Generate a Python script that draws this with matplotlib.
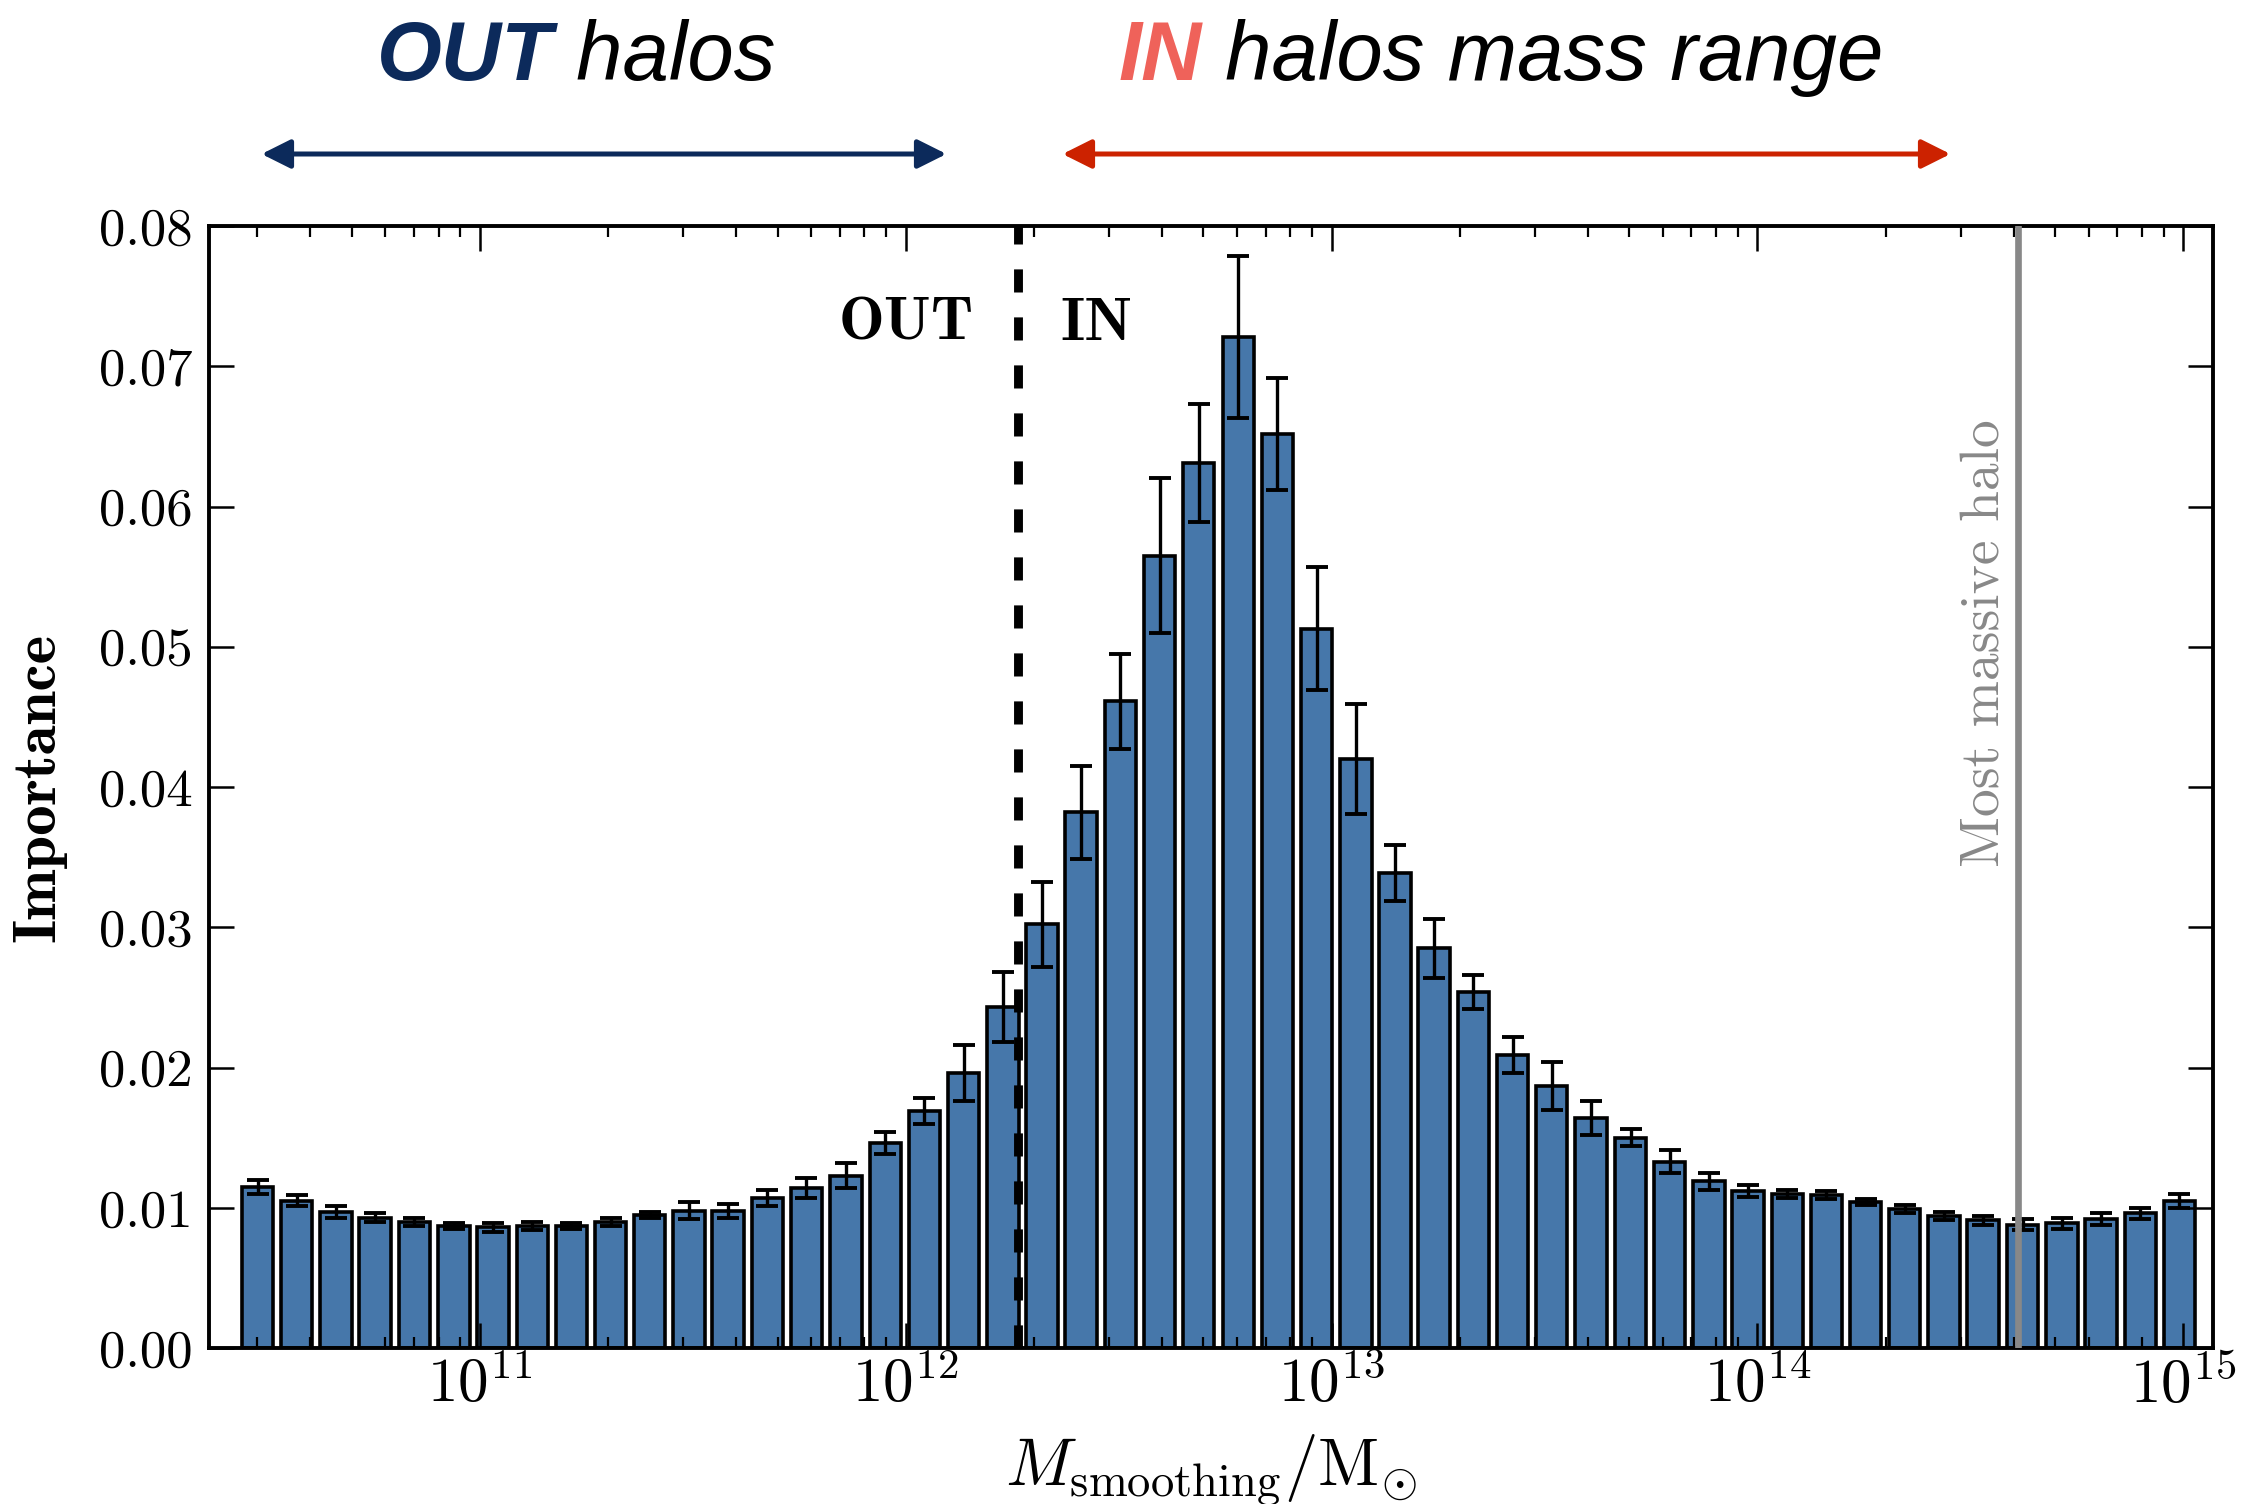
import numpy as np
import matplotlib
matplotlib.use('Agg')
import matplotlib.pyplot as plt
from matplotlib import ticker

# log10 of smoothing mass at each bar (bin centres)
log_mass = [10.478, 10.570, 10.662, 10.754, 10.846, 10.939, 11.031, 11.123, 11.215, 11.307,
            11.399, 11.491, 11.583, 11.675, 11.767, 11.860, 11.952, 12.044, 12.136, 12.228,
            12.320, 12.412, 12.504, 12.596, 12.688, 12.781, 12.873, 12.965, 13.057, 13.149,
            13.241, 13.333, 13.425, 13.517, 13.609, 13.702, 13.794, 13.886, 13.978, 14.070,
            14.162, 14.254, 14.346, 14.438, 14.530, 14.623, 14.715, 14.807, 14.899, 14.991]

# feature importance
importance = [0.0115, 0.0105, 0.0097, 0.0093, 0.0090, 0.0087, 0.0086, 0.0087, 0.0087, 0.0090,
              0.0095, 0.0098, 0.0098, 0.0107, 0.0114, 0.0123, 0.0146, 0.0169, 0.0196, 0.0243,
              0.0302, 0.0382, 0.0461, 0.0565, 0.0631, 0.0721, 0.0652, 0.0513, 0.0420, 0.0339,
              0.0285, 0.0254, 0.0209, 0.0187, 0.0164, 0.0150, 0.0133, 0.0119, 0.0112, 0.0110,
              0.0109, 0.0104, 0.0099, 0.0094, 0.0091, 0.0088, 0.0089, 0.0092, 0.0096, 0.0105]

# error bars
importance_err = [0.0005, 0.0004, 0.0004, 0.0003, 0.0003, 0.0002, 0.0003, 0.0003, 0.0002, 0.0003,
                  0.0002, 0.0006, 0.0005, 0.0006, 0.0007, 0.0009, 0.0008, 0.0009, 0.0020, 0.0025,
                  0.0030, 0.0033, 0.0034, 0.0055, 0.0042, 0.0058, 0.0040, 0.0044, 0.0039, 0.0020,
                  0.0021, 0.0012, 0.0013, 0.0017, 0.0012, 0.0006, 0.0008, 0.0006, 0.0004, 0.0003,
                  0.0003, 0.0002, 0.0003, 0.0003, 0.0003, 0.0004, 0.0004, 0.0004, 0.0004, 0.0005]

split_log_mass = 12.263      # граница IN / OUT
most_massive_log_mass = 14.613

plt.rcParams['font.family'] = 'serif'
plt.rcParams['font.serif'] = ['cmr10']
plt.rcParams['mathtext.fontset'] = 'cm'
plt.rcParams['axes.formatter.use_mathtext'] = True

fig = plt.figure(figsize=(11.275, 7.52), dpi=200)
ax = fig.add_axes([0.0927, 0.1037, 0.8887, 0.746])

lm = np.array(log_mass)
half = 0.0369
left = 10 ** (lm - half)
width = 10 ** (lm + half) - left
ax.bar(left, importance, width=width, align='edge', color='#4677aa',
       edgecolor='black', linewidth=1.3, zorder=1)
ax.errorbar(10 ** lm, importance, yerr=importance_err, fmt='none', ecolor='black',
            elinewidth=1.2, capsize=3.8, capthick=1.4, zorder=2)

ax.axvline(10 ** split_log_mass, color='black', lw=3.2, linestyle=(0, (2.6, 2.8)), zorder=3)
ax.axvline(10 ** most_massive_log_mass, color='#888888', lw=2.4, zorder=3)

ax.set_xscale('log')
ax.set_xlim(10 ** 10.364, 10 ** 15.07)
ax.set_ylim(0, 0.08)
ax.yaxis.set_major_locator(ticker.MultipleLocator(0.01))
ax.yaxis.set_major_formatter(ticker.FormatStrFormatter('%.2f'))
ax.xaxis.set_major_locator(ticker.LogLocator(base=10, numticks=10))
ax.xaxis.set_major_formatter(ticker.FuncFormatter(lambda v, p: r'$10^{%d}$' % round(np.log10(v))))
ax.xaxis.set_minor_locator(ticker.LogLocator(base=10, subs=np.arange(2, 10), numticks=20))
ax.xaxis.set_minor_formatter(ticker.NullFormatter())

for s in ax.spines.values():
    s.set_linewidth(1.4)
ax.tick_params(which='major', direction='in', length=9, width=0.9, top=True, right=True)
ax.tick_params(which='minor', direction='in', length=4, width=0.8, top=True, right=True)
ax.tick_params(axis='y', labelsize=19, pad=6)
ax.tick_params(axis='x', labelsize=22, pad=3)

ax.set_ylabel('Importance', fontfamily='cmb10', fontsize=22)
ax.yaxis.set_label_coords(-0.071, 0.5)
ax.set_xlabel(r'$M_{\rm smoothing}/{\rm M}_{\odot}$', fontsize=24)
ax.xaxis.set_label_coords(0.5, -0.075)

ax.text(10 ** 12.160, 0.0719, 'OUT', fontfamily='cmb10', fontsize=22, ha='right', va='baseline')
ax.text(10 ** 12.364, 0.0719, 'IN', fontfamily='cmb10', fontsize=22, ha='left', va='baseline')
ax.annotate('Most massive halo', xy=(10 ** most_massive_log_mass, 0.0343), xytext=(-3, 0),
            textcoords='offset points', rotation=90, ha='right', va='bottom',
            color='#888888', fontsize=20)

# надписи и стрелки сверху
navy = '#0c2a5b'
t1 = fig.text(0.1672, 0.9468, 'OUT', family='Liberation Sans', style='italic', weight='bold',
              color=navy, fontsize=30, va='baseline')
ax.annotate(' halos', xy=(1, 0), xycoords=t1, family='Liberation Sans', style='italic',
            color='black', fontsize=30, va='bottom', ha='left', annotation_clip=False)
t2 = fig.text(0.4962, 0.9468, 'IN', family='Liberation Sans', style='italic', weight='bold',
              color='#ef625a', fontsize=30, va='baseline')
ax.annotate(' halos mass range', xy=(1, 0), xycoords=t2, family='Liberation Sans', style='italic',
            color='black', fontsize=30, va='bottom', ha='left', annotation_clip=False)

fig.patches.append(matplotlib.patches.FancyArrowPatch(
    (256 / 2255, 1 - 154 / 1504), (952 / 2255, 1 - 154 / 1504), transform=fig.transFigure,
    arrowstyle='<|-|>', mutation_scale=22, color=navy, lw=1.8))
fig.patches.append(matplotlib.patches.FancyArrowPatch(
    (1057 / 2255, 1 - 154 / 1504), (1956 / 2255, 1 - 154 / 1504), transform=fig.transFigure,
    arrowstyle='<|-|>', mutation_scale=22, color='#cc2200', lw=1.8))

fig.savefig('out.png', dpi=200)
